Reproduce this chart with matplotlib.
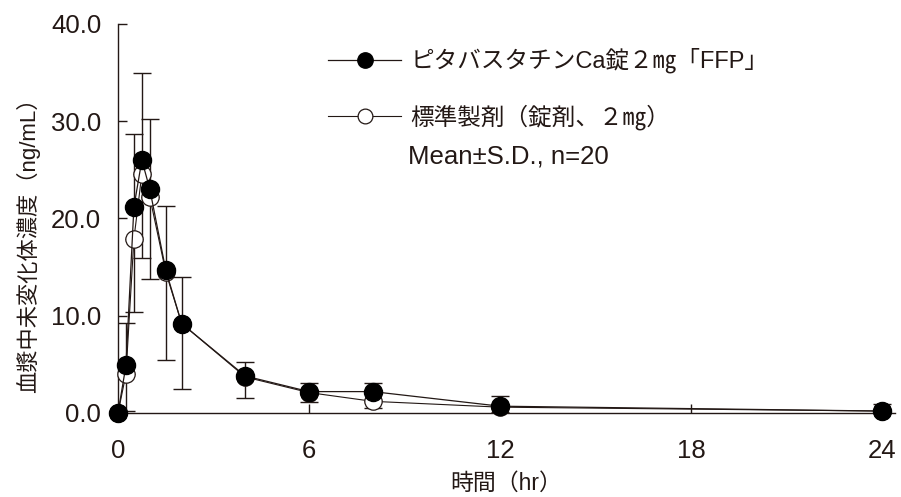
import matplotlib
matplotlib.use("Agg")
import matplotlib.pyplot as plt
from matplotlib.ticker import FormatStrFormatter
import numpy as np

# Sampling times (hr)
time_hr = [0, 0.25, 0.5, 0.75, 1, 1.5, 2, 4, 6, 8, 12, 24]

# Test product: mean and SD (ng/mL)
test_label = "ピタバスタチンCa錠２㎎「FFP」"
test_mean = [0.0, 4.9, 21.2, 26.0, 23.0, 14.7, 9.2, 3.8, 2.2, 2.2, 0.7, 0.2]
test_sd = [0.0, 4.4, 7.5, 9.0, 7.2, 6.6, 4.8, 1.4, 0.9, 0.9, 1.0, 0.7]

# Reference product: mean and SD (ng/mL)
ref_label = "標準製剤（錠剤、２㎎）"
ref_mean = [0.0, 4.0, 17.9, 24.6, 22.2, 14.5, 9.2, 3.7, 2.1, 1.2, 0.6, 0.2]
ref_sd = [0.0, 3.8, 7.5, 8.7, 8.4, 9.0, 6.7, 2.2, 1.0, 0.7, 0.5, 0.2]

x_ticks = [0, 6, 12, 18, 24]
y_ticks = [0, 10, 20, 30, 40]
x_label = "時間（hr）"
y_label = "血漿中未変化体濃度（ng/mL）"
note_text = "Mean±S.D., n=20"

INK = "#231815"
FAMILY = ["Liberation Sans", "Noto Sans CJK JP", "DejaVu Sans"]
plt.rcParams["font.family"] = FAMILY

fig = plt.figure(figsize=(9.01, 4.97), dpi=100)
ax = fig.add_axes([118 / 901, 84 / 497, 777 / 901, 389 / 497])

t = np.array(time_hr)
tm, ts = np.array(test_mean), np.array(test_sd)
rm, rs = np.array(ref_mean), np.array(ref_sd)

# Error bars: upper for test, lower for reference
ax.errorbar(t, tm, yerr=[np.zeros_like(ts), ts], fmt="none", ecolor=INK,
            elinewidth=1.0, capsize=6.5, capthick=1.0, zorder=2)
ax.errorbar(t, rm, yerr=[rs, np.zeros_like(rs)], fmt="none", ecolor=INK,
            elinewidth=1.0, capsize=6.5, capthick=1.0, zorder=2)

ref_line, = ax.plot(t, rm, color=INK, lw=0.8, marker="o", markersize=12.5,
                    markerfacecolor="white", markeredgecolor=INK,
                    markeredgewidth=0.9, zorder=3, clip_on=False)
test_line, = ax.plot(t, tm, color=INK, lw=0.9, marker="o", markersize=13,
                     markerfacecolor="black", markeredgecolor="black",
                     zorder=4, clip_on=False)

ax.set_xlim(0, 24 * 777 / 764)
ax.set_ylim(0, 40)
ax.set_xticks(x_ticks)
ax.set_yticks(y_ticks)
ax.yaxis.set_major_formatter(FormatStrFormatter("%.1f"))

for side in ("top", "right"):
    ax.spines[side].set_visible(False)
for side in ("left", "bottom"):
    ax.spines[side].set_linewidth(1.0)
    ax.spines[side].set_color(INK)

ax.tick_params(axis="both", direction="in", length=6.5, width=1.0,
               color=INK, labelcolor=INK, labelsize=18.5)
ax.tick_params(axis="y", pad=12)
ax.tick_params(axis="x", pad=19)

ax.set_xlabel(x_label, fontsize=16.5, color=INK, labelpad=6)
fig.text(28 / 901, 1 - 240 / 497, y_label, rotation=90, fontsize=16,
         color=INK, ha="center", va="center")

leg = ax.legend([test_line, ref_line], [test_label, ref_label],
                loc="upper left", bbox_to_anchor=(328 / 901, 1 - 48 / 497),
                bbox_transform=fig.transFigure, frameon=False,
                fontsize=17, handlelength=3.1, handletextpad=0.4,
                labelspacing=1.3, borderpad=0, borderaxespad=0,
                markerscale=0.85)
for txt in leg.get_texts():
    txt.set_color(INK)

fig.text(408 / 901, 1 - 156 / 497, note_text, fontsize=18.5, color=INK,
         ha="left", va="center")

fig.savefig("out.png", dpi=100)
